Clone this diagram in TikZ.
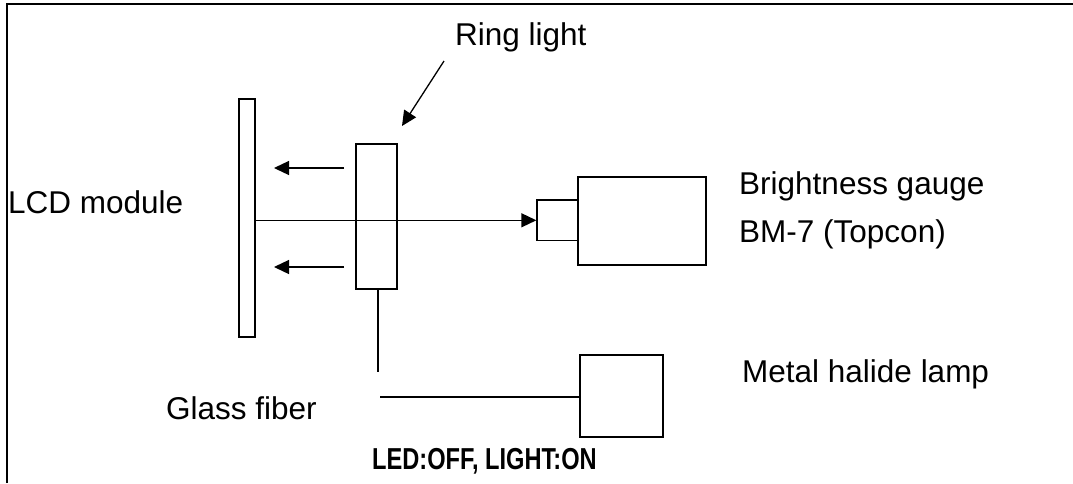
\documentclass[tikz,border=0pt]{standalone}
\usepackage{fontspec}
\setmainfont{Liberation Sans}
\newfontfamily\capfont[FakeStretch=0.78]{Liberation Sans}
\usetikzlibrary{arrows.meta}

\tikzset{
    box/.style={draw, line width=1.3pt, inner sep=0pt},
    lbl/.style={anchor=base west, inner sep=0pt, font=\fontsize{31.5}{36}\selectfont},
    wire/.style={line width=1.3pt},
    ray/.style={line width=1.3pt, -{Triangle[length=15pt,width=14pt]}}
}

\begin{document}
\begin{tikzpicture}[x=1pt, y=-1pt]
    \useasboundingbox (0,0) rectangle (1073,483);

    % frame of the cell
    \draw[line width=2pt] (7,483) -- (7,4) -- (1073,4);

    % parts of the set-up
    \node[box, minimum width=16pt, minimum height=238pt] (lcd) at (247,218) {};
    \node[box, minimum width=41pt, minimum height=145pt] (ring) at (376.5,216.5) {};
    \node[box, minimum width=41pt, minimum height=40.5pt] (head) at (557.5,220.3) {};
    \node[box, minimum width=128pt, minimum height=88pt] (gauge) at (642,221) {};
    \node[box, minimum width=83pt, minimum height=82pt] (lamp) at (621.5,396) {};

    % labels
    \node[lbl] (lcdtext) at (8,213) {LCD module};
    \node[lbl] (ringtext) at (455,45) {Ring light};
    \node[lbl] (gaugetext) at (739,194) {Brightness gauge};
    \node[lbl] (modeltext) at (739,242) {BM-7 (Topcon)};
    \node[lbl] (lamptext) at (742,382) {Metal halide lamp};
    \node[lbl] (fibertext) at (166,419) {Glass fiber};
    \node[anchor=base west, inner sep=0pt, font=\capfont\bfseries\fontsize{30.3}{34}\selectfont]
        (state) at (372,469) {LED:OFF, LIGHT:ON};

    % free ends of the connectors
    \coordinate (ringtip) at (402,126);
    \coordinate (ringfrom) at (444,61);
    \coordinate (upfrom) at (344,168);
    \coordinate (upto) at (274,168);
    \coordinate (lowfrom) at (344,267);
    \coordinate (lowto) at (274,267);
    \coordinate (fiberend) at (378,372);
    \coordinate (fiberstart) at (380,397);

    % light paths
    \draw[ray] (ringfrom) -- (ringtip);
    \draw[ray] (upfrom) -- (upto);
    \draw[ray] (lowfrom) -- (lowto);
    \draw[ray] (lcd.east |- head.west) -- (head.west);

    % glass fiber
    \draw[wire] (ring.south -| fiberend) -- (fiberend);
    \draw[wire] (fiberstart) -- (fiberstart -| lamp.west);
\end{tikzpicture}
\end{document}
